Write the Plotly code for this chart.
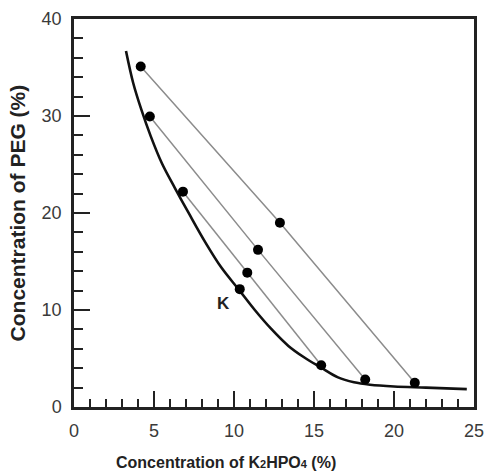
import plotly.graph_objects as go

# Binodal curve (K2HPO4 %, PEG %)
binodal_x = [3.25, 3.7, 4.2, 4.8, 5.5, 6.3, 7.2, 8.2, 9.2, 10.3, 11.3, 12.3, 13.4,
             14.4, 15.4, 16.5, 17.5, 18.5, 20.0, 22.0, 24.55]
binodal_y = [36.7, 33.4, 30.7, 27.9, 25.1, 22.6, 19.9, 17.0, 14.4, 12.1, 10.0, 8.1, 6.3,
             5.1, 4.1, 3.05, 2.55, 2.3, 2.12, 2.0, 1.84]

# Tie lines: top phase, feed, bottom phase
tie1_x = [4.17, 12.87, 21.3]
tie1_y = [35.1, 19.0, 2.49]
tie2_x = [4.74, 11.5, 18.2]
tie2_y = [29.94, 16.2, 2.83]
tie3_x = [6.81, 10.83, 15.45]
tie3_y = [22.2, 13.85, 4.3]

# Critical point K
k_x = [10.36]
k_y = [12.15]

fig = go.Figure()
for tx, ty in [(tie1_x, tie1_y), (tie2_x, tie2_y), (tie3_x, tie3_y)]:
    fig.add_trace(go.Scatter(x=tx, y=ty, mode="lines",
                             line=dict(color="#8c8c8c", width=1.5), showlegend=False))
fig.add_trace(go.Scatter(x=binodal_x, y=binodal_y, mode="lines",
                         line=dict(color="#111111", width=2.6, shape="spline", smoothing=1.0),
                         showlegend=False))
for tx, ty in [(tie1_x, tie1_y), (tie2_x, tie2_y), (tie3_x, tie3_y), (k_x, k_y)]:
    fig.add_trace(go.Scatter(x=tx, y=ty, mode="markers",
                             marker=dict(color="black", size=10), showlegend=False))

fig.add_annotation(x=9.36, y=10.66, text="<b>K</b>", showarrow=False,
                   font=dict(family="Liberation Sans, Arial", size=17, color="#222"))

fig.add_annotation(xref="paper", yref="paper", x=0.38, y=-0.143,
                   text="<b>Concentration of K<span style='font-size:11px'>2</span>HPO<span style='font-size:11px'>4</span> (%)</b>",
                   showarrow=False, xanchor="center", yanchor="middle",
                   font=dict(family="Liberation Sans, Arial", size=16, color="#222"))
fig.add_annotation(xref="paper", yref="paper", x=-0.1415, y=0.5,
                   text="<b>Concentration of PEG (%)</b>", textangle=-90,
                   showarrow=False, xanchor="center", yanchor="middle",
                   font=dict(family="Liberation Sans, Arial", size=21, color="#222"))

axis_common = dict(showgrid=False, zeroline=False, showline=True, linewidth=2.5,
                   linecolor="#222", mirror=True, ticks="inside", ticklen=16,
                   tickwidth=2, tickcolor="#222",
                   tickfont=dict(family="Liberation Sans, Arial", size=18, color="#3a3a3a"))

fig.update_xaxes(range=[0, 25], tick0=0, dtick=5, ticklabelstandoff=6,
                 minor=dict(ticks="inside", dtick=1, ticklen=8, tickwidth=1.5, tickcolor="#222"),
                 **axis_common)
fig.update_yaxes(range=[0, 40], tick0=0, dtick=10, ticklabelstandoff=6,
                 minor=dict(ticks="inside", dtick=2, ticklen=9, tickwidth=1.5, tickcolor="#222"),
                 **axis_common)

fig.update_layout(width=493, height=474, margin=dict(l=74, r=9, t=16, b=67),
                  plot_bgcolor="white", paper_bgcolor="white", showlegend=False)

fig.write_html("out.html")
